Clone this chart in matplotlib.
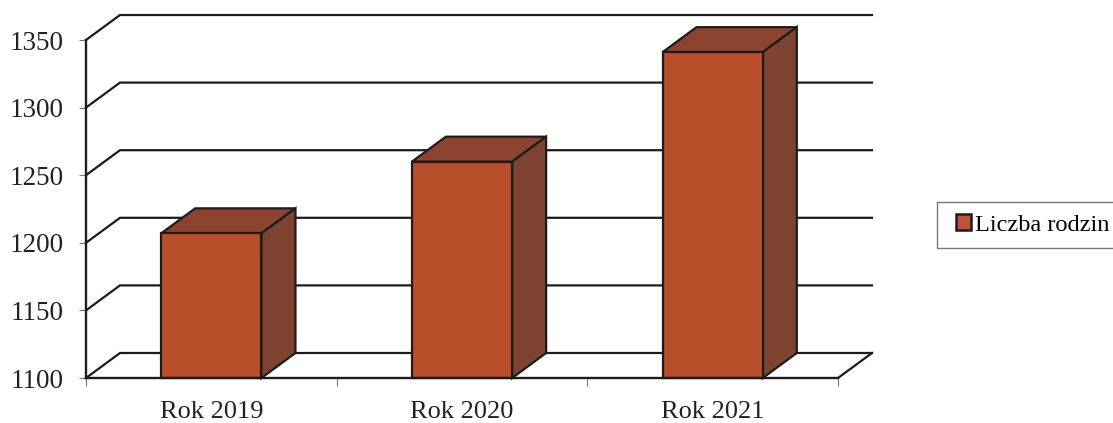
import matplotlib
matplotlib.use("Agg")
import matplotlib.pyplot as plt
from matplotlib.patches import Patch, Rectangle

plt.rcParams["font.family"] = "Liberation Serif"

# dane z wykresu
lata = ["Rok 2019", "Rok 2020", "Rok 2021"]
liczba_rodzin = [1207, 1260, 1341]
poziomy = [1100, 1150, 1200, 1250, 1300, 1350]

kolor_przod = "#b94f2a"
kolor_gora = "#8c4430"
kolor_bok = "#7e4431"
czarny = "#1c1c1c"

fig = plt.figure(figsize=(11.13, 4.23), dpi=100)
ax = fig.add_axes([86 / 1113, 45 / 423, 752 / 1113, 338 / 423])
ax.set_xlim(-0.5, 2.5)
ax.set_ylim(poziomy[0], poziomy[-1])

# przesuniecie glebi 3D w jednostkach danych
dx = 34 / 250.7
dy = 25 / 1.352
szer = 0.4

# tylna sciana i lewa sciana
for p in poziomy:
    ax.plot([-0.5, -0.5 + dx, 2.5 + dx], [p, p + dy, p + dy], color=czarny, lw=1.6,
            clip_on=False, zorder=1, solid_joinstyle="miter")
# podloga
ax.plot([2.5, 2.5 + dx], [poziomy[0], poziomy[0] + dy], color=czarny, lw=1.6, clip_on=False, zorder=1)

# slupki
x = range(len(lata))
ax.bar(x, [w - poziomy[0] for w in liczba_rodzin], bottom=poziomy[0], width=szer,
       color=kolor_przod, edgecolor=czarny, lw=1.6, zorder=3, clip_on=False)
for i, w in zip(x, liczba_rodzin):
    l, r = i - szer / 2, i + szer / 2
    ax.fill([l, l + dx, r + dx, r], [w, w + dy, w + dy, w], facecolor=kolor_gora,
            edgecolor=czarny, lw=1.6, clip_on=False, zorder=2)
    ax.fill([r, r + dx, r + dx, r], [poziomy[0], poziomy[0] + dy, w + dy, w], facecolor=kolor_bok,
            edgecolor=czarny, lw=1.6, clip_on=False, zorder=2)

for s in ["top", "right"]:
    ax.spines[s].set_visible(False)
for s in ["left", "bottom"]:
    ax.spines[s].set_linewidth(1.7)
    ax.spines[s].set_color(czarny)
    ax.spines[s].set_zorder(4)

ax.set_yticks(poziomy)
ax.set_yticklabels([str(p) for p in poziomy], fontsize=19.5, color="#222222")
ax.set_xticks(list(x))
ax.set_xticklabels(lata, fontsize=19, color="#222222")
ax.set_xticks([-0.5, 0.5, 1.5, 2.5], minor=True)
ax.tick_params(axis="y", length=5, width=0.8, color="#777777", pad=11)
ax.tick_params(axis="x", which="major", length=0, pad=16.5)
ax.tick_params(axis="x", which="minor", length=6, width=0.8, color="#777777")

# ramka legendy siega poza prawa krawedz
fig.add_artist(Rectangle((937 / 1113, 1 - 248 / 423), 190 / 1113, 46 / 423, transform=fig.transFigure,
                         facecolor="white", edgecolor="#777777", lw=1.0))
uchwyt = Patch(facecolor="#c4503a", edgecolor=czarny, lw=1.8, label="Liczba rodzin")
leg = fig.legend(handles=[uchwyt], loc="center left", bbox_to_anchor=(956 / 1113, 1 - 225 / 423),
                 fontsize=17.6, frameon=False, handlelength=0.62, handleheight=0.62,
                 handletextpad=0.14, borderpad=0, borderaxespad=0)

fig.savefig("out.png", dpi=100)
